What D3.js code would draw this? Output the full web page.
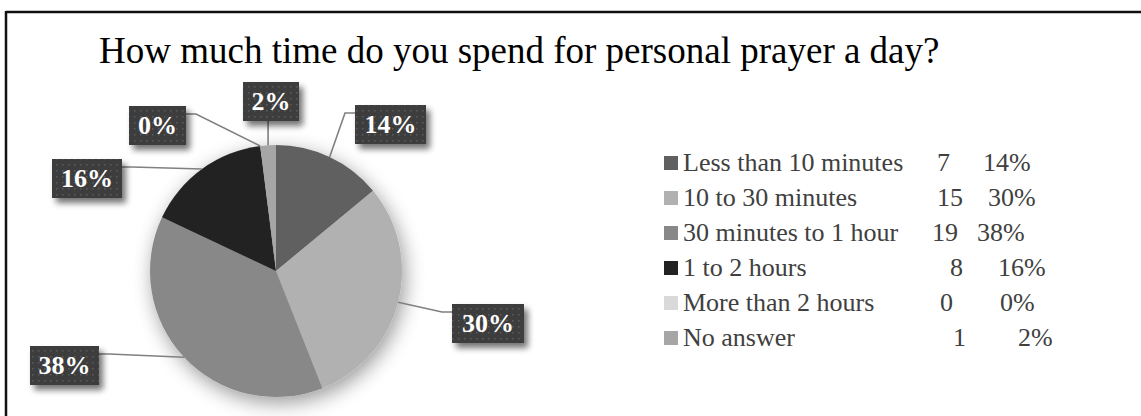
<!DOCTYPE html>
<html>
<head>
<meta charset="utf-8">
<script src="https://cdn.jsdelivr.net/npm/d3@7"></script>
<style>
  html, body { margin: 0; padding: 0; background: #fff; }
  svg { display: block; }
</style>
</head>
<body>
<svg id="chart" width="1141" height="416"></svg>
<script>
// Survey answers: time spent in personal prayer per day
const categories = [
  "Less than 10 minutes",
  "10 to 30 minutes",
  "30 minutes to 1 hour",
  "1 to 2 hours",
  "More than 2 hours",
  "No answer"
];
const counts = [7, 15, 19, 8, 0, 1];
const sliceColors = ["#606060", "#b1b1b1", "#888888", "#222222", "#d9d9d9", "#a6a6a6"];
const title = "How much time do you spend for personal prayer a day?";

// Layout of the callout boxes (top-left corner, width) and legend columns
const calloutBoxes = [
  { x: 355, y: 105, w: 71 },
  { x: 452, y: 304, w: 72 },
  { x: 30,  y: 346, w: 69 },
  { x: 52,  y: 159, w: 70 },
  { x: 129, y: 106, w: 57 },
  { x: 243, y: 82,  w: 56 }
];
const countX = [937, 937, 932, 950, 940, 953];
const pctX = [983, 988, 977, 998, 1000, 1018];

const total = d3.sum(counts);
const pct = counts.map(c => Math.round(c / total * 100));

const svg = d3.select("#chart");
const defs = svg.append("defs");

// Soft shadow behind the pie
const pieShadow = defs.append("filter").attr("id", "pieShadow")
  .attr("x", "-30%").attr("y", "-30%").attr("width", "160%").attr("height", "160%");
pieShadow.append("feGaussianBlur").attr("in", "SourceAlpha").attr("stdDeviation", 10).attr("result", "b");
pieShadow.append("feOffset").attr("in", "b").attr("dx", 3).attr("dy", 6).attr("result", "o");
pieShadow.append("feComponentTransfer").attr("in", "o").attr("result", "s")
  .append("feFuncA").attr("type", "linear").attr("slope", 0.4);
const pm = pieShadow.append("feMerge");
pm.append("feMergeNode").attr("in", "s");
pm.append("feMergeNode").attr("in", "SourceGraphic");

// Drop shadow for callout boxes
const boxShadow = defs.append("filter").attr("id", "boxShadow")
  .attr("x", "-30%").attr("y", "-30%").attr("width", "160%").attr("height", "180%");
boxShadow.append("feGaussianBlur").attr("in", "SourceAlpha").attr("stdDeviation", 3).attr("result", "b");
boxShadow.append("feOffset").attr("in", "b").attr("dx", 4).attr("dy", 5).attr("result", "o");
boxShadow.append("feComponentTransfer").attr("in", "o").attr("result", "s")
  .append("feFuncA").attr("type", "linear").attr("slope", 0.55);
const bm = boxShadow.append("feMerge");
bm.append("feMergeNode").attr("in", "s");
bm.append("feMergeNode").attr("in", "SourceGraphic");

// Dotted texture for callout boxes
const pat = defs.append("pattern").attr("id", "dots")
  .attr("width", 6).attr("height", 6).attr("patternUnits", "userSpaceOnUse");
pat.append("rect").attr("width", 6).attr("height", 6).attr("fill", "#3d3d3d");
pat.append("rect").attr("x", 2).attr("y", 2).attr("width", 1.5).attr("height", 1.5).attr("fill", "#5c5c5c");

// Frame (top and left edges)
svg.append("line").attr("x1", 6).attr("y1", 12).attr("x2", 1141).attr("y2", 12)
  .attr("stroke", "#111").attr("stroke-width", 2.5);
svg.append("line").attr("x1", 6).attr("y1", 11).attr("x2", 6).attr("y2", 416)
  .attr("stroke", "#111").attr("stroke-width", 2.5);

// Title
svg.append("text")
  .attr("x", 99).attr("y", 63)
  .attr("font-family", "'Liberation Serif', 'Times New Roman', serif")
  .attr("font-size", 37)
  .attr("fill", "#000")
  .text(title);

// Pie
const cx = 276, cy = 271, r = 126;
const pie = d3.pie().value(d => d).sort(null);
const arcs = pie(counts);
const arc = d3.arc().innerRadius(0).outerRadius(r);
const edgeArc = d3.arc().innerRadius(r).outerRadius(r);

const g = svg.append("g").attr("transform", `translate(${cx},${cy})`);
g.append("g").attr("filter", "url(#pieShadow)")
  .selectAll("path").data(arcs).join("path")
  .attr("d", arc)
  .attr("fill", (d, i) => sliceColors[i])
  .attr("stroke", "none");

// Leader lines from slice edge to callout box
const leaders = svg.append("g").attr("fill", "none").attr("stroke", "#808080").attr("stroke-width", 1.6);
arcs.forEach((a, i) => {
  const [ex, ey] = edgeArc.centroid(a);
  const px = cx + ex, py = cy + ey;
  const b = calloutBoxes[i];
  const h = 39;
  let pts;
  if (b.y + h < py - 15 && b.x < px && b.x + b.w > px) {
    // box directly above: vertical leader to bottom edge
    pts = [[px, py], [px, b.y + h]];
  } else if (b.x > px) {
    // box on the right: elbow then attach to left edge
    const ay = b.y + 8;
    pts = [[px, py], [b.x - 10, ay], [b.x, ay]];
  } else {
    const ay = b.y + 8;
    pts = [[px, py], [b.x + b.w + 10, ay], [b.x + b.w, ay]];
  }
  leaders.append("path").attr("d", d3.line()(pts));
});

// Callout boxes with percentage
const callouts = svg.append("g");
arcs.forEach((a, i) => {
  const b = calloutBoxes[i];
  const grp = callouts.append("g");
  grp.append("rect")
    .attr("x", b.x).attr("y", b.y).attr("width", b.w).attr("height", 39)
    .attr("fill", "url(#dots)")
    .attr("filter", "url(#boxShadow)");
  grp.append("text")
    .attr("x", b.x + b.w / 2).attr("y", b.y + 28)
    .attr("text-anchor", "middle")
    .attr("font-family", "'Liberation Serif', 'Times New Roman', serif")
    .attr("font-weight", "bold")
    .attr("font-size", 26)
    .attr("fill", "#fff")
    .text(pct[i] + "%");
});

// Legend
const legend = svg.append("g")
  .attr("font-family", "'Liberation Serif', 'Times New Roman', serif")
  .attr("font-size", 26)
  .attr("fill", "#404040");
categories.forEach((c, i) => {
  const y = 171 + i * 35;
  legend.append("rect").attr("x", 664).attr("y", y - 15).attr("width", 14).attr("height", 14)
    .attr("fill", sliceColors[i]);
  legend.append("text").attr("x", 683).attr("y", y).text(c);
  legend.append("text").attr("x", countX[i]).attr("y", y).text(counts[i]);
  legend.append("text").attr("x", pctX[i]).attr("y", y).text(pct[i] + "%");
});
</script>
</body>
</html>
